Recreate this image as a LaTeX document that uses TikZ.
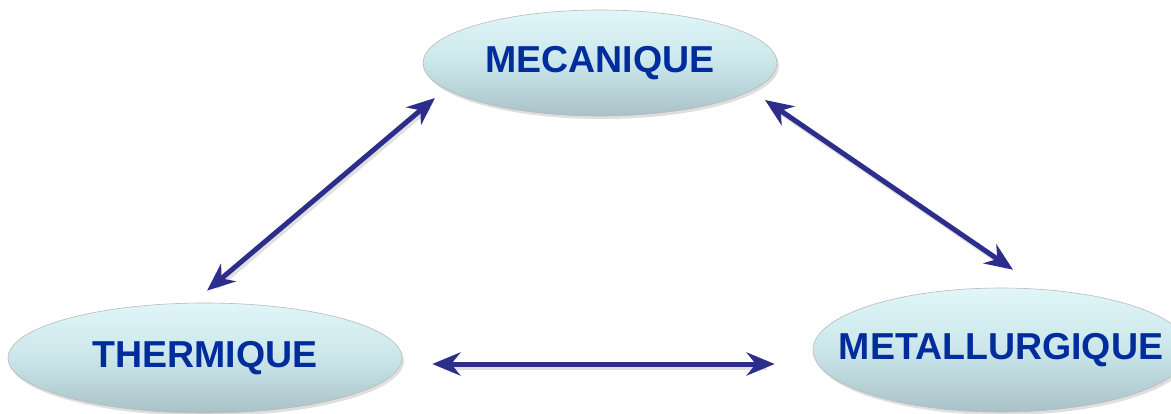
\documentclass[tikz,border=0pt]{standalone}
\usepackage{fontspec}
\setmainfont{Liberation Sans}
\usepackage{tikz}
\usetikzlibrary{arrows.meta,positioning,shapes.geometric,calc,shadows}
\usepackage{xcolor}
\definecolor{cText}{RGB}{0,45,155}
\definecolor{cArrow}{RGB}{45,45,140}
\definecolor{cTop}{RGB}{224,246,249}
\definecolor{cMid}{RGB}{203,230,234}
\definecolor{cBot}{RGB}{168,194,199}

\begin{document}
\begin{tikzpicture}[
    x=1pt, y=1pt,
    field/.style={ellipse,draw=gray!55,line width=0.6pt,inner sep=0pt,
      top color=cTop,bottom color=cBot,middle color=cMid,
      drop shadow={opacity=0.25,shadow xshift=2pt,shadow yshift=-3pt},
      text=cText,font=\bfseries\fontsize{37.5}{40}\selectfont},
    link/.style={{Stealth[length=28pt,width=23pt,inset=9pt]}-{Stealth[length=28pt,width=23pt,inset=9pt]},
      line width=5pt,cArrow},
    linkshadow/.style={line width=5pt,black,opacity=0.12}
  ]
  \useasboundingbox (0,0) rectangle (1171,413);
  \node[field,minimum width=354pt,minimum height=106pt] (meca) at (600,350) {MECANIQUE};
  \node[field,minimum width=394pt,minimum height=110pt] (therm) at (205,55) {THERMIQUE};
  \node[field,inner xsep=-32pt,inner ysep=-10pt,minimum width=376pt,minimum height=124pt] (metal) at (1001,63) {METALLURGIQUE};
  % ends of the couplings
  \coordinate (thA) at ($(therm.north)+(2,12)$);
  \coordinate (meA) at ($(meca.center)+(-165,-35)$);
  \coordinate (meB) at ($(meca.center)+(165,-37)$);
  \coordinate (mtA) at ($(metal.north)+(12,18)$);
  \coordinate (thB) at ($(therm.east)+(30,-6)$);
  \coordinate (mtB) at ($(metal.west)+(-38,-14)$);
  \draw[linkshadow,shorten <=10pt,shorten >=10pt] ($(thA)+(2,-3)$) -- ($(meA)+(2,-3)$);
  \draw[linkshadow,shorten <=10pt,shorten >=10pt] ($(meB)+(2,-3)$) -- ($(mtA)+(2,-3)$);
  \draw[linkshadow,shorten <=10pt,shorten >=10pt] ($(thB)+(2,-3)$) -- ($(mtB)+(2,-3)$);
  \draw[link] (thA) -- (meA);
  \draw[link] (meB) -- (mtA);
  \draw[link] (thB) -- (mtB);
\end{tikzpicture}
\end{document}
